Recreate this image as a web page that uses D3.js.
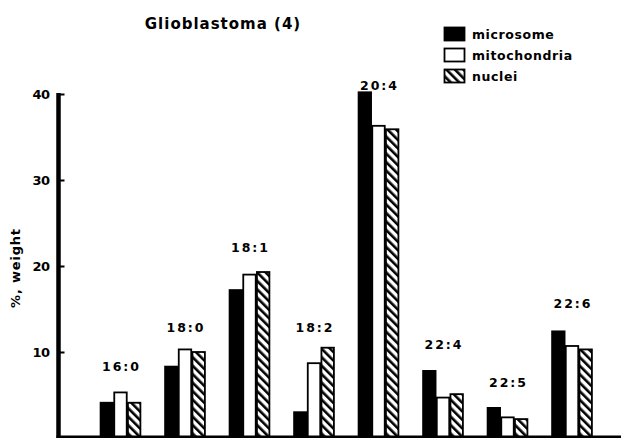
<!DOCTYPE html>
<html>
<head>
<meta charset="utf-8">
<script src="https://cdn.jsdelivr.net/npm/d3@7"></script>
<style>
  html, body { margin: 0; padding: 0; background: #fff; }
  svg { display: block; }
  text { font-family: "DejaVu Sans", sans-serif; font-weight: bold; fill: #000; }
</style>
</head>
<body>
<svg id="chart" width="621" height="438"></svg>
<script>
// ---- data ----
const categories = ["16:0", "18:0", "18:1", "18:2", "20:4", "22:4", "22:5", "22:6"];
const seriesNames = ["microsome", "mitochondria", "nuclei"];
const microsome    = [4.1, 8.3, 17.2, 3.0, 40.2, 7.8, 3.5, 12.4];
const mitochondria = [5.3, 10.3, 19.0, 8.7, 36.3, 4.7, 2.4, 10.7];
const nuclei       = [4.1, 10.0, 19.3, 10.5, 35.9, 5.1, 2.2, 10.3];
// level (in % weight) at which each category label sits
const labelLevels  = [8.3, 12.8, 22.2, 12.8, 41.0, 10.9, 6.4, 15.6];
const yTicks = [10, 20, 30, 40];
const titleText = "Glioblastoma (4)";
const yLabelText = "%, weight";

const seriesValues = [microsome, mitochondria, nuclei];

// ---- layout ----
const svg = d3.select("#chart");
const W = 621, H = 438;
const axisX = 58.5;
const baseY = 438;

const y = d3.scaleLinear().domain([0, 40]).range([baseY, 94]);
const x = d3.scaleBand().domain(categories).range([88.25, 604.25])
  .paddingInner(0.3643).paddingOuter(0.182);
const xs = d3.scaleBand().domain(seriesNames).range([0, x.bandwidth()]);

// hatch pattern (lines running top-left to bottom-right)
const defs = svg.append("defs");
const pat = defs.append("pattern")
  .attr("id", "hatch")
  .attr("patternUnits", "userSpaceOnUse")
  .attr("width", 6).attr("height", 6)
  .attr("patternTransform", "rotate(-45)");
pat.append("rect").attr("width", 6).attr("height", 6).attr("fill", "#fff");
pat.append("rect").attr("x", 0).attr("y", 0).attr("width", 2.6).attr("height", 6).attr("fill", "#000");

const fills = { microsome: "#000", mitochondria: "#fff", nuclei: "url(#hatch)" };

// title
svg.append("text")
  .attr("x", 223).attr("y", 29)
  .attr("text-anchor", "middle")
  .attr("font-size", 15)
  .attr("letter-spacing", 1)
  .text(titleText);

// bars
const groups = svg.append("g").selectAll("g")
  .data(categories)
  .join("g")
  .attr("transform", d => `translate(${x(d)},0)`);

groups.selectAll("rect")
  .data((d, i) => seriesNames.map((s, k) => ({ s, v: seriesValues[k][i] })))
  .join("rect")
  .attr("x", d => xs(d.s) + 0.6)
  .attr("y", d => y(d.v))
  .attr("width", xs.bandwidth() - 1.2)
  .attr("height", d => baseY - y(d.v))
  .attr("fill", d => fills[d.s])
  .attr("stroke", "#000")
  .attr("stroke-width", 1.8);

// category labels
svg.append("g").selectAll("text")
  .data(categories)
  .join("text")
  .attr("x", d => x(d) + x.bandwidth() / 2 + 1)
  .attr("y", (d, i) => y(labelLevels[i]))
  .attr("dy", "0.36em")
  .attr("text-anchor", "middle")
  .attr("font-size", 12.5)
  .attr("letter-spacing", 2)
  .text(d => d);

// y axis
const yAxis = d3.axisRight(y).tickValues(yTicks).tickSize(6).tickFormat(d3.format("d"));
const ya = svg.append("g").attr("transform", `translate(${axisX},0)`).call(yAxis);
ya.select(".domain").remove();
ya.selectAll(".tick line").attr("stroke", "#000").attr("stroke-width", 2);
ya.selectAll(".tick text")
  .attr("x", -9)
  .attr("text-anchor", "end")
  .attr("font-size", 13)
  .attr("font-family", "DejaVu Sans")
  .attr("font-weight", "bold")
  .attr("letter-spacing", -0.5);

svg.append("line")
  .attr("x1", axisX).attr("x2", axisX)
  .attr("y1", y(40) - 1).attr("y2", 438)
  .attr("stroke", "#000").attr("stroke-width", 4.5);

// x axis baseline
svg.append("line")
  .attr("x1", axisX - 2).attr("x2", W)
  .attr("y1", 437).attr("y2", 437)
  .attr("stroke", "#000").attr("stroke-width", 3);

// y label
svg.append("text")
  .attr("transform", `translate(20,268) rotate(-90)`)
  .attr("text-anchor", "middle")
  .attr("font-size", 13)
  .attr("letter-spacing", 0.8)
  .text(yLabelText);

// legend
const legend = svg.append("g").selectAll("g")
  .data(seriesNames)
  .join("g")
  .attr("transform", (d, i) => `translate(444,${27 + i * 21})`);
legend.append("rect")
  .attr("x", 0.5).attr("y", 0.5)
  .attr("width", 20).attr("height", 13)
  .attr("fill", d => fills[d])
  .attr("stroke", "#000").attr("stroke-width", 1.8);
legend.append("text")
  .attr("x", 28).attr("y", 7)
  .attr("dy", "0.36em")
  .attr("font-size", 12.5)
  .attr("letter-spacing", 0.6)
  .text(d => d);
</script>
</body>
</html>
